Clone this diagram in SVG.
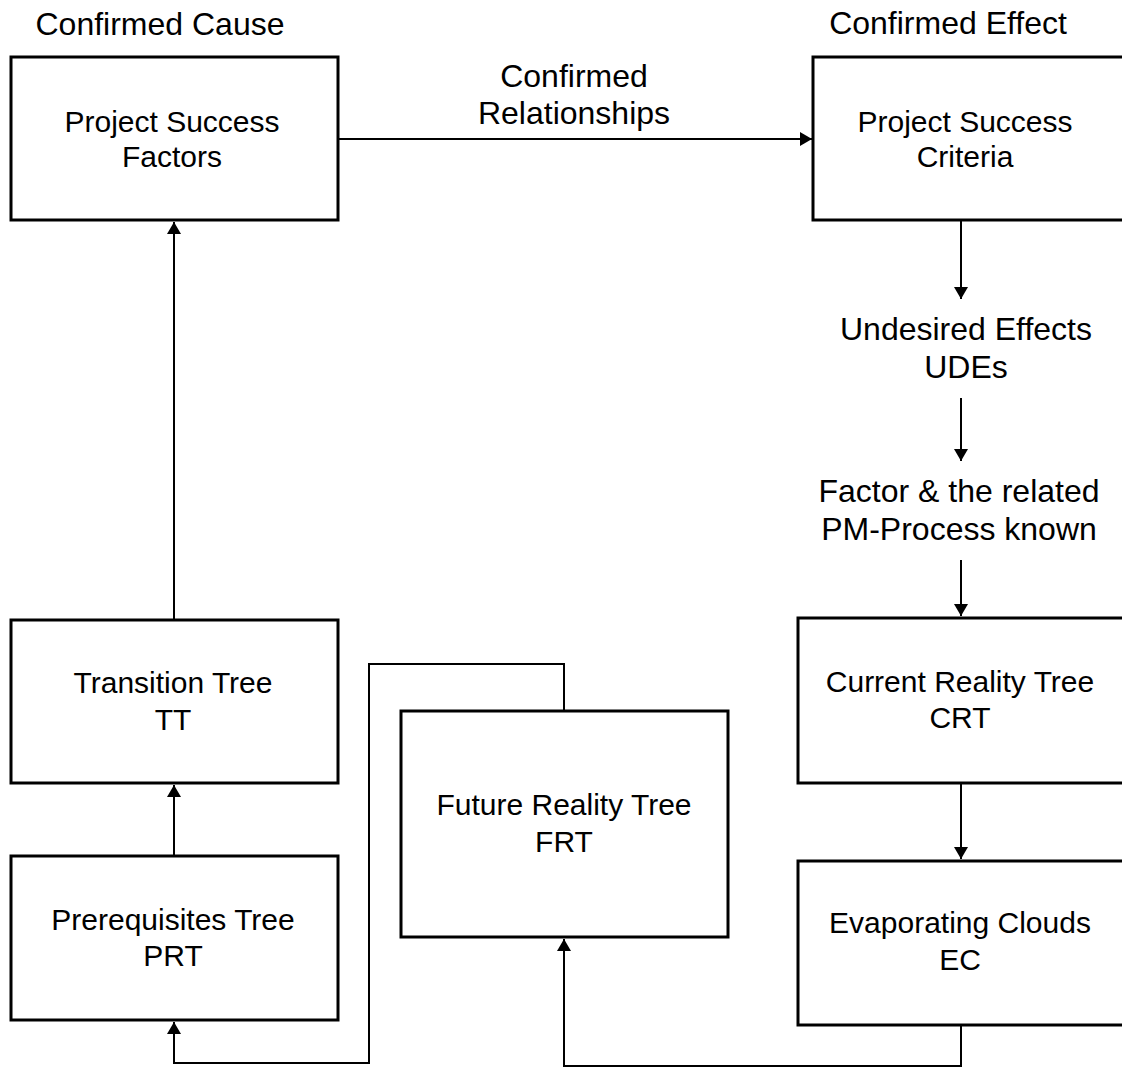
<svg xmlns="http://www.w3.org/2000/svg" width="1122" height="1069" viewBox="0 0 1122 1069">
<style>
.box{fill:#fff;stroke:#000;stroke-width:3}
.t{font-family:"Liberation Sans",Arial,sans-serif;font-size:30px;fill:#000;text-anchor:middle}
.l{font-family:"Liberation Sans",Arial,sans-serif;font-size:32px;fill:#000;text-anchor:middle}
.c{fill:none;stroke:#000;stroke-width:2}
</style>
<defs>
<marker id="arr" viewBox="0 0 12 14" refX="12" refY="7" markerWidth="12" markerHeight="14" markerUnits="userSpaceOnUse" orient="auto">
<path d="M0,0 L12,7 L0,14 Z" fill="#000"/>
</marker>
</defs>
<rect width="1122" height="1069" fill="#fff"/>
<g id="labels">
<text class="l" x="160" y="35">Confirmed Cause</text>
<text class="l" x="948" y="34">Confirmed Effect</text>
<text class="l" x="574" y="87">Confirmed</text>
<text class="l" x="574" y="124">Relationships</text>
</g>
<g id="connectors">
<line class="c" x1="339" y1="139" x2="812" y2="139" marker-end="url(#arr)"/>
<line class="c" x1="174" y1="619" x2="174" y2="222" marker-end="url(#arr)"/>
<line class="c" x1="174" y1="855" x2="174" y2="785" marker-end="url(#arr)"/>
<polyline class="c" points="564,710 564,664 369,664 369,1063 174,1063 174,1022" marker-end="url(#arr)"/>
<polyline class="c" points="961,1026 961,1066 564,1066 564,939" marker-end="url(#arr)"/>
<line class="c" x1="961" y1="221" x2="961" y2="299" marker-end="url(#arr)"/>
<line class="c" x1="961" y1="398" x2="961" y2="461" marker-end="url(#arr)"/>
<line class="c" x1="961" y1="560" x2="961" y2="616" marker-end="url(#arr)"/>
<line class="c" x1="961" y1="784" x2="961" y2="859" marker-end="url(#arr)"/>
</g>
<g id="psf">
<rect class="box" x="11" y="57" width="327" height="163"/>
<text class="t" x="172" y="132">Project Success</text>
<text class="t" x="172" y="167">Factors</text>
</g>
<g id="psc">
<rect class="box" x="813" y="57" width="320" height="163"/>
<text class="t" x="965" y="132">Project Success</text>
<text class="t" x="965" y="167">Criteria</text>
</g>
<g id="udes">
<text class="l" x="966" y="340">Undesired Effects</text>
<text class="l" x="966" y="378">UDEs</text>
</g>
<g id="factor">
<text class="l" x="959" y="502">Factor &amp; the related</text>
<text class="l" x="959" y="540">PM-Process known</text>
</g>
<g id="tt">
<rect class="box" x="11" y="620" width="327" height="163"/>
<text class="t" x="173" y="693">Transition Tree</text>
<text class="t" x="173" y="730">TT</text>
</g>
<g id="prt">
<rect class="box" x="11" y="856" width="327" height="164"/>
<text class="t" x="173" y="930">Prerequisites Tree</text>
<text class="t" x="173" y="966">PRT</text>
</g>
<g id="frt">
<rect class="box" x="401" y="711" width="327" height="226"/>
<text class="t" x="564" y="815">Future Reality Tree</text>
<text class="t" x="564" y="852">FRT</text>
</g>
<g id="crt">
<rect class="box" x="798" y="618" width="340" height="165"/>
<text class="t" x="960" y="692">Current Reality Tree</text>
<text class="t" x="960" y="728">CRT</text>
</g>
<g id="ec">
<rect class="box" x="798" y="861" width="340" height="164"/>
<text class="t" x="960" y="933">Evaporating Clouds</text>
<text class="t" x="960" y="970">EC</text>
</g>
</svg>
